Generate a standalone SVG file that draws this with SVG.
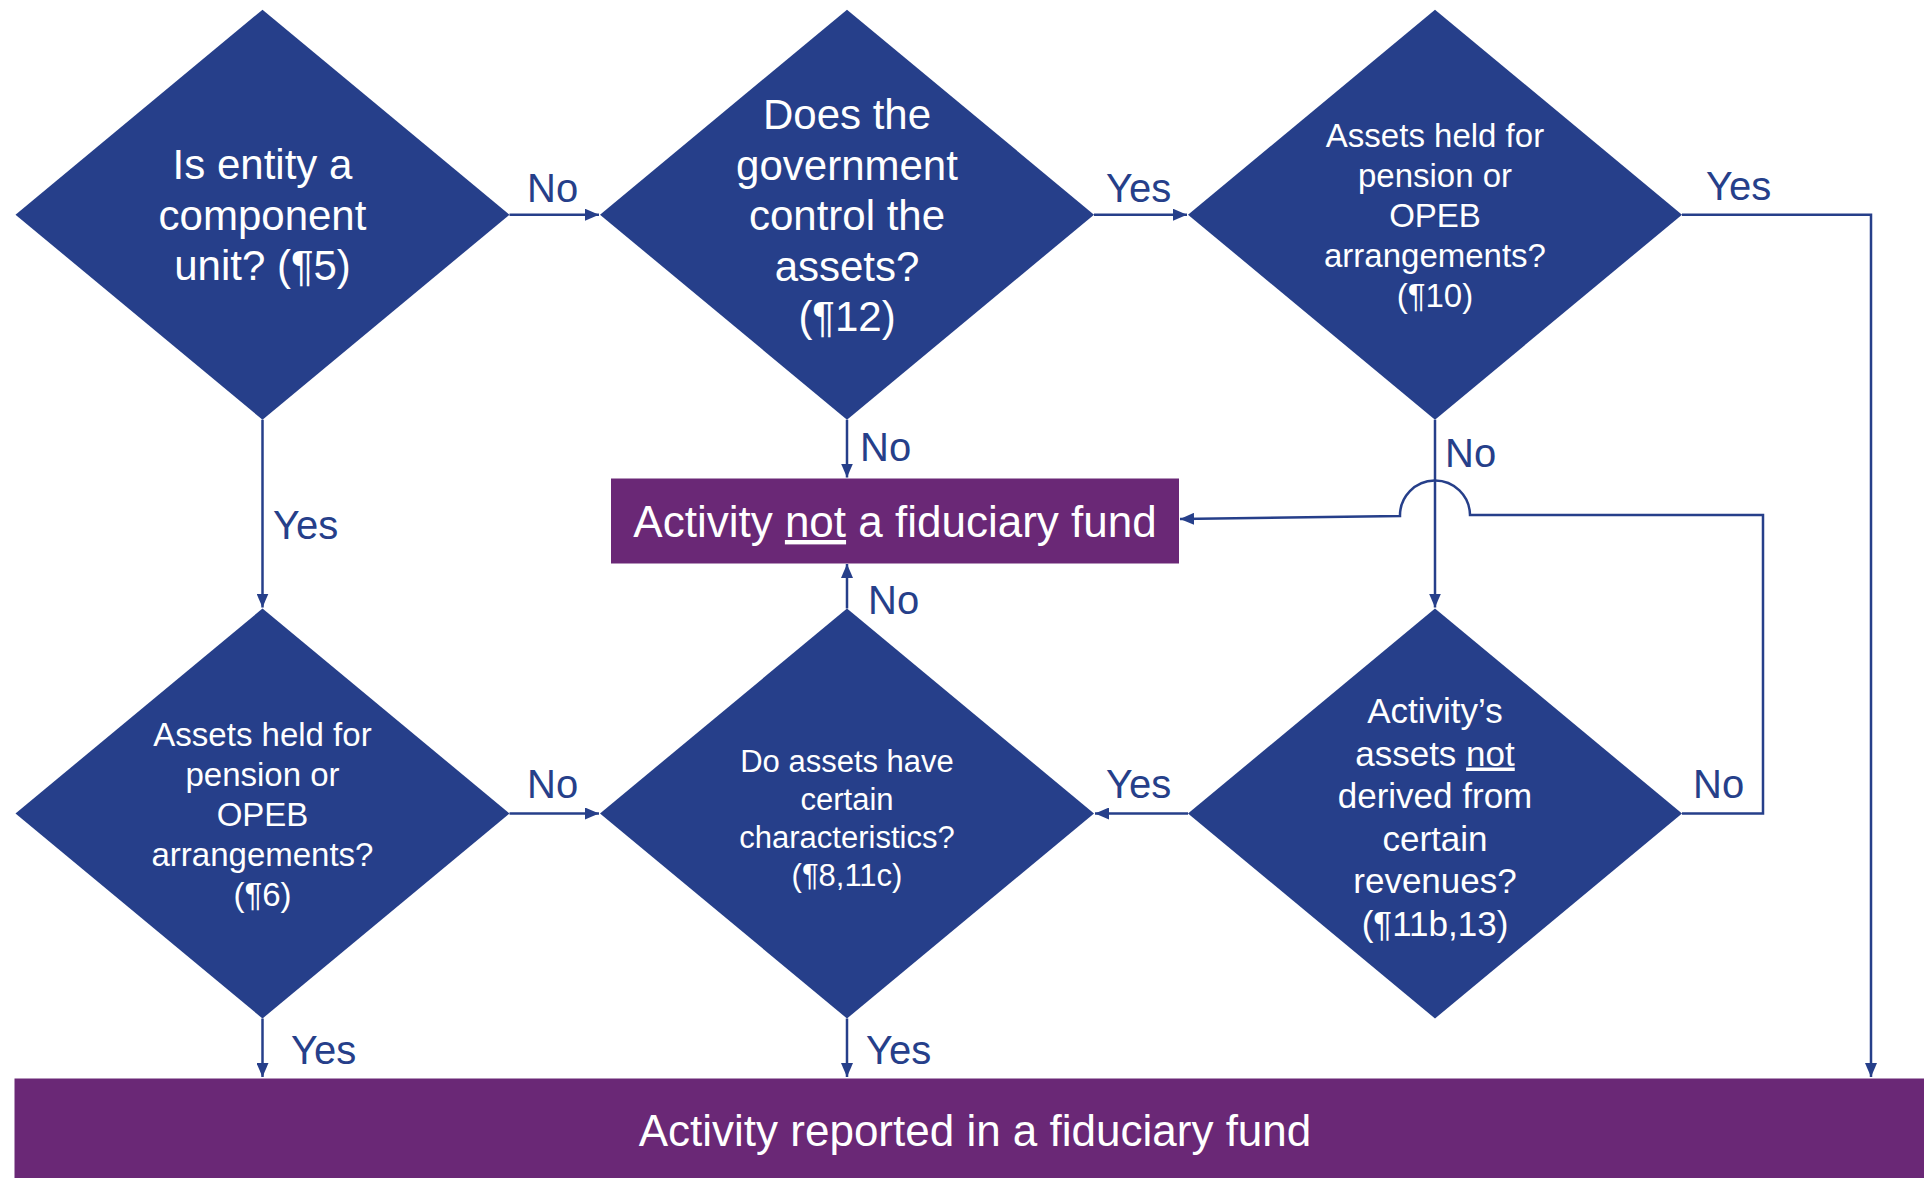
<svg xmlns="http://www.w3.org/2000/svg" width="1924" height="1178" viewBox="0 0 1924 1178">
  <style>
    .dia { fill: #263f8a; }
    .box { fill: #6a2876; }
    .t { font-family: "Liberation Sans", Arial, sans-serif; fill: #ffffff; text-anchor: middle; }
    .lbl { font-family: "Liberation Sans", Arial, sans-serif; fill: #263f8a; font-size: 40px; }
    .conn { fill: none; stroke: #263f8a; stroke-width: 2.5; }
  </style>
  <defs>
    <marker id="arrow" markerUnits="userSpaceOnUse" markerWidth="14" markerHeight="12" refX="14" refY="6" orient="auto">
      <path d="M0,0 L14,6 L0,12 z" fill="#263f8a"/>
    </marker>
  </defs>
  <rect width="1924" height="1178" fill="#ffffff"/>

  <!-- connectors -->
  <g id="connectors">
    <path class="conn" d="M509.5,214.7 H599" marker-end="url(#arrow)"/>
    <path class="conn" d="M1094,214.7 H1187" marker-end="url(#arrow)"/>
    <path class="conn" d="M1682,214.7 H1871 V1077" marker-end="url(#arrow)"/>
    <path class="conn" d="M262.5,419.7 V607.5" marker-end="url(#arrow)"/>
    <path class="conn" d="M847,419.7 V477.5" marker-end="url(#arrow)"/>
    <path class="conn" d="M1435,419.7 V607.5" marker-end="url(#arrow)"/>
    <path class="conn" d="M847,608.5 V564" marker-end="url(#arrow)"/>
    <path class="conn" d="M509.5,813.5 H599" marker-end="url(#arrow)"/>
    <path class="conn" d="M1188,813.5 H1095" marker-end="url(#arrow)"/>
    <path class="conn" d="M1682,813.5 H1763 V515 H1470 A35,35 0 0 0 1400,516 L1180,519" marker-end="url(#arrow)"/>
    <path class="conn" d="M262.5,1018.5 V1077" marker-end="url(#arrow)"/>
    <path class="conn" d="M847,1018.5 V1077" marker-end="url(#arrow)"/>
  </g>

  <!-- connector labels -->
  <g id="labels">
    <text class="lbl" x="527" y="202">No</text>
    <text class="lbl" x="1106" y="202">Yes</text>
    <text class="lbl" x="1706" y="200">Yes</text>
    <text class="lbl" x="273" y="539">Yes</text>
    <text class="lbl" x="860" y="461">No</text>
    <text class="lbl" x="1445" y="467">No</text>
    <text class="lbl" x="868" y="614">No</text>
    <text class="lbl" x="527" y="798">No</text>
    <text class="lbl" x="1106" y="798">Yes</text>
    <text class="lbl" x="1693" y="798">No</text>
    <text class="lbl" x="291" y="1064">Yes</text>
    <text class="lbl" x="866" y="1064">Yes</text>
  </g>

  <!-- decision: component unit -->
  <g id="d-component-unit">
    <polygon class="dia" points="262.5,9.7 509.5,214.7 262.5,419.7 15.5,214.7"/>
    <text class="t" font-size="42" x="262.5" y="179">Is entity a</text>
    <text class="t" font-size="42" x="262.5" y="229.5">component</text>
    <text class="t" font-size="42" x="262.5" y="280">unit? (¶5)</text>
  </g>

  <!-- decision: government control -->
  <g id="d-control">
    <polygon class="dia" points="847,9.7 1094,214.7 847,419.7 600,214.7"/>
    <text class="t" font-size="42" x="847" y="129">Does the</text>
    <text class="t" font-size="42" x="847" y="179.5">government</text>
    <text class="t" font-size="42" x="847" y="230">control the</text>
    <text class="t" font-size="42" x="847" y="280.5">assets?</text>
    <text class="t" font-size="42" x="847" y="331">(¶12)</text>
  </g>

  <!-- decision: pension / OPEB (¶10) -->
  <g id="d-pension-10">
    <polygon class="dia" points="1435,9.7 1682,214.7 1435,419.7 1188,214.7"/>
    <text class="t" font-size="33" x="1435" y="146.5">Assets held for</text>
    <text class="t" font-size="33" x="1435" y="186.5">pension or</text>
    <text class="t" font-size="33" x="1435" y="226.5">OPEB</text>
    <text class="t" font-size="33" x="1435" y="266.5">arrangements?</text>
    <text class="t" font-size="33" x="1435" y="306.5">(¶10)</text>
  </g>

  <!-- decision: pension / OPEB (¶6) -->
  <g id="d-pension-6">
    <polygon class="dia" points="262.5,608.5 509.5,813.5 262.5,1018.5 15.5,813.5"/>
    <text class="t" font-size="33" x="262.5" y="746">Assets held for</text>
    <text class="t" font-size="33" x="262.5" y="786">pension or</text>
    <text class="t" font-size="33" x="262.5" y="826">OPEB</text>
    <text class="t" font-size="33" x="262.5" y="866">arrangements?</text>
    <text class="t" font-size="33" x="262.5" y="906">(¶6)</text>
  </g>

  <!-- decision: asset characteristics -->
  <g id="d-characteristics">
    <polygon class="dia" points="847,608.5 1094,813.5 847,1018.5 600,813.5"/>
    <text class="t" font-size="31" x="847" y="772">Do assets have</text>
    <text class="t" font-size="31" x="847" y="810">certain</text>
    <text class="t" font-size="31" x="847" y="848">characteristics?</text>
    <text class="t" font-size="31" x="847" y="886">(¶8,11c)</text>
  </g>

  <!-- decision: derived revenues -->
  <g id="d-revenues">
    <polygon class="dia" points="1435,608.5 1682,813.5 1435,1018.5 1188,813.5"/>
    <text class="t" font-size="35" x="1435" y="723">Activity’s</text>
    <text class="t" font-size="35" x="1435" y="765.5">assets <tspan text-decoration="underline">not</tspan></text>
    <text class="t" font-size="35" x="1435" y="808">derived from</text>
    <text class="t" font-size="35" x="1435" y="850.5">certain</text>
    <text class="t" font-size="35" x="1435" y="893">revenues?</text>
    <text class="t" font-size="35" x="1435" y="935.5">(¶11b,13)</text>
  </g>

  <!-- outcome: not a fiduciary fund -->
  <g id="r-not-fiduciary">
    <rect class="box" x="611" y="478.5" width="568" height="85"/>
    <text class="t" font-size="44" x="895" y="537">Activity <tspan text-decoration="underline">not</tspan> a fiduciary fund</text>
  </g>

  <!-- outcome: reported in a fiduciary fund -->
  <g id="r-fiduciary">
    <rect class="box" x="14.5" y="1078.5" width="1909.5" height="99.5"/>
    <text class="t" font-size="44" x="975" y="1146">Activity reported in a fiduciary fund</text>
  </g>
</svg>
